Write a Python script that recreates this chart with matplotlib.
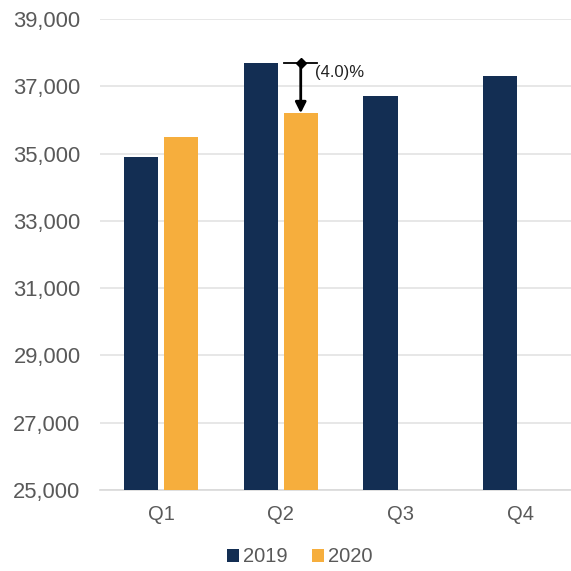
import matplotlib as mpl
mpl.use('Agg')
import matplotlib.pyplot as plt
import numpy as np

quarters = ["Q1", "Q2", "Q3", "Q4"]
sales_2019 = [34900, 37700, 36700, 37300]
sales_2020 = [35500, 36200, np.nan, np.nan]
y_ticks = [25000, 27000, 29000, 31000, 33000, 35000, 37000, 39000]
change_label = "(4.0)%"

navy = '#132e53'
gold = '#f6ae3d'
grey_txt = '#595959'

plt.rcParams['font.family'] = ['Liberation Sans', 'DejaVu Sans']

fig = plt.figure(figsize=(5.71, 5.71), dpi=100)
ax = fig.add_axes([100 / 571, 1 - 490 / 571, 1 - 100 / 571, (490 - 19) / 571])

x = np.arange(len(quarters))
width = 0.285
off = 0.167
ax.bar(x - off, sales_2019, width, color=navy, label="2019", zorder=3)
ax.bar(x + off, sales_2020, width, color=gold, label="2020", zorder=3)

# change annotation on Q2
top = sales_2019[1]
low = sales_2020[1]
xa = 1 + off
ax.plot([xa - 0.14, xa + 0.14], [top, top], color='black', lw=1.3, zorder=4)
ax.plot([xa], [top], marker='D', color='black', ms=5.5, zorder=5)
ax.annotate("", xy=(xa, low), xytext=(xa, top),
            arrowprops=dict(arrowstyle='-|>', color='black', lw=2, mutation_scale=16,
                            shrinkA=0, shrinkB=0),
            zorder=5)
ax.text(xa + 0.12, top - 280, change_label, fontsize=12, color='#222222', va='center', ha='left')

ax.set_ylim(25000, 39000)
ax.set_xlim(-0.51, 3.425)
ax.set_yticks(y_ticks)
ax.set_yticklabels([f"{v:,}" for v in y_ticks])
ax.set_xticks(x)
ax.set_xticklabels(quarters)
ax.tick_params(axis='both', length=0, colors=grey_txt)
ax.tick_params(axis='x', pad=11, labelsize=14.5)
ax.tick_params(axis='y', pad=14, labelsize=15.8)

ax.grid(axis='y', color='#e3e3e3', lw=1.2, zorder=0)
for s in ['top', 'right', 'left']:
    ax.spines[s].set_visible(False)
ax.spines['bottom'].set_color('#d9d9d9')
ax.spines['bottom'].set_linewidth(1.2)

fig.legend(loc='center', bbox_to_anchor=(300 / 571, 1 - 557 / 571), ncol=2, frameon=False,
           fontsize=14.5, handlelength=0.6, handleheight=0.6, handletextpad=0.2,
           columnspacing=1.2, labelcolor=grey_txt)

fig.savefig("out.png", dpi=100)
